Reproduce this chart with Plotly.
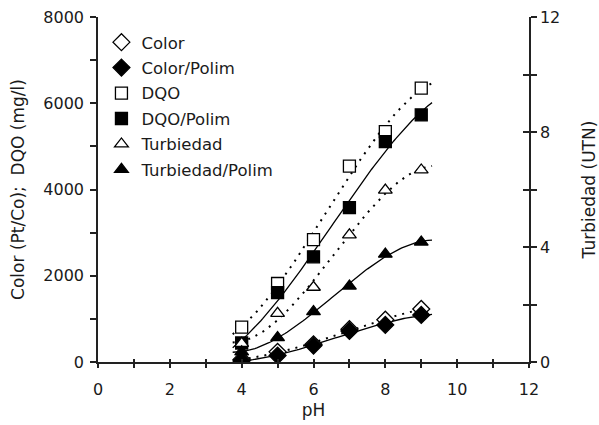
import numpy as np
import plotly.graph_objects as go

ph = [4, 5, 6, 7, 8, 9]
color = [60, 235, 410, 760, 980, 1230]
color_polim = [30, 150, 380, 720, 860, 1090]
dqo = [810, 1820, 2840, 4540, 5340, 6350]
dqo_polim = [440, 1610, 2440, 3580, 5110, 5730]
turb = [0.65, 1.69, 2.6, 4.42, 5.98, 6.68]
turb_polim = [0.35, 0.85, 1.75, 2.64, 3.75, 4.17]

x_ticks = list(range(0, 13))
x_labels = [str(v) if v % 2 == 0 else "" for v in x_ticks]
y_ticks = list(range(0, 8001, 1000))
y_labels = [str(v) if v % 2000 == 0 else "" for v in y_ticks]
y2_ticks = list(range(0, 13, 2))
y2_labels = [str(v) if v % 4 == 0 else "" for v in y2_ticks]

FONT = "DejaVu Sans"
TXT = "#1a1a1a"
TICK_FS = 16
TITLE_FS = 17

fig = go.Figure()

xfit = np.linspace(3.75, 9.3, 100)

series = [
    ("Color", color, "diamond-open", "y", "dot"),
    ("Color/Polim", color_polim, "diamond", "y", "solid"),
    ("DQO", dqo, "square-open", "y", "dot"),
    ("DQO/Polim", dqo_polim, "square", "y", "solid"),
    ("Turbiedad", turb, "triangle-up-open", "y2", "dot"),
    ("Turbiedad/Polim", turb_polim, "triangle-up", "y2", "solid"),
]

# trend lines (polynomial fits of the data)
for name, vals, sym, ax, dash in series:
    c = np.polyfit(ph, vals, 3)
    yfit = np.polyval(c, xfit)
    fig.add_trace(go.Scatter(x=xfit, y=yfit, mode="lines", yaxis=ax,
                             line=dict(color="black", width=2 if dash == "dot" else 1.3,
                                       dash="2px,6px" if dash == "dot" else "solid"),
                             showlegend=False, hoverinfo="skip"))

for i, (name, vals, sym, ax, dash) in enumerate(series):
    is_open = sym.endswith("open")
    base = sym.replace("-open", "")
    size = 12 if base != "diamond" else 13
    fig.add_trace(go.Scatter(
        x=ph, y=vals, mode="markers", name=name, yaxis=ax, legendgroup=f"g{i}",
        marker=dict(symbol=base, size=size,
                    color="white" if is_open else "black",
                    line=dict(color="black", width=1.3)),
    ))

fig.update_layout(
    width=599, height=425,
    margin=dict(l=98, r=70, t=17, b=63),
    paper_bgcolor="white", plot_bgcolor="white",
    font=dict(family=FONT, size=TICK_FS, color=TXT),
    showlegend=True,
    legend=dict(x=0.008, y=0.977, xanchor="left", yanchor="top",
                bgcolor="rgba(0,0,0,0)", font=dict(family=FONT, size=16.5, color=TXT),
                tracegroupgap=1, itemwidth=30),
    xaxis=dict(range=[0, 12], tickmode="array", tickvals=x_ticks, ticktext=x_labels,
               ticks="outside", ticklen=4, tickwidth=1.5, tickcolor="#222", ticklabelstandoff=8,
               showline=True, linecolor="#222", linewidth=1.5, showgrid=False, zeroline=False,
               automargin=False,
               title=dict(text="pH", font=dict(family=FONT, size=TITLE_FS, color=TXT), standoff=6),
               tickfont=dict(family=FONT, size=TICK_FS, color=TXT)),
    xaxis2=dict(range=[0, 12], overlaying="x", anchor="y", side="bottom", automargin=False,
                tickmode="array", tickvals=x_ticks, ticks="inside", ticklen=3, tickwidth=1.5,
                tickcolor="#222", showticklabels=False, showline=False, showgrid=False, zeroline=False),
    yaxis=dict(range=[0, 8000], tickmode="array", tickvals=y_ticks, ticktext=y_labels,
               ticks="outside", ticklen=6, tickwidth=1.5, tickcolor="#222", ticklabelstandoff=3,
               showline=True, linecolor="#222", linewidth=1.5, showgrid=False, zeroline=False,
               automargin=False,
               title=dict(text="Color (Pt/Co);  DQO (mg/l)", font=dict(family=FONT, size=TITLE_FS, color=TXT), standoff=14),
               tickfont=dict(family=FONT, size=TICK_FS, color=TXT)),
    yaxis2=dict(range=[0, 12], overlaying="y", side="right", anchor="x",
                tickmode="array", tickvals=y2_ticks, ticktext=y2_labels,
                ticks="outside", ticklen=6, tickwidth=1.5, tickcolor="#222",
                showline=True, linecolor="#222", linewidth=1.5, showgrid=False, zeroline=False,
                automargin=False,
                title=dict(text="Turbiedad (UTN)", font=dict(family=FONT, size=TITLE_FS, color=TXT), standoff=24),
                tickfont=dict(family=FONT, size=TICK_FS, color=TXT)),
    yaxis3=dict(range=[0, 12], overlaying="y", side="right", anchor="x", automargin=False,
                tickmode="array", tickvals=y2_ticks, ticks="inside", ticklen=6, tickwidth=1.5,
                tickcolor="#222", showticklabels=False, showline=False, showgrid=False, zeroline=False),
)

fig.add_trace(go.Scatter(x=[0], y=[0], xaxis="x2", yaxis="y", mode="markers",
                         marker=dict(opacity=0), showlegend=False, hoverinfo="skip"))
fig.add_trace(go.Scatter(x=[0], y=[0], xaxis="x", yaxis="y3", mode="markers",
                         marker=dict(opacity=0), showlegend=False, hoverinfo="skip"))

fig.write_html("out.html")
